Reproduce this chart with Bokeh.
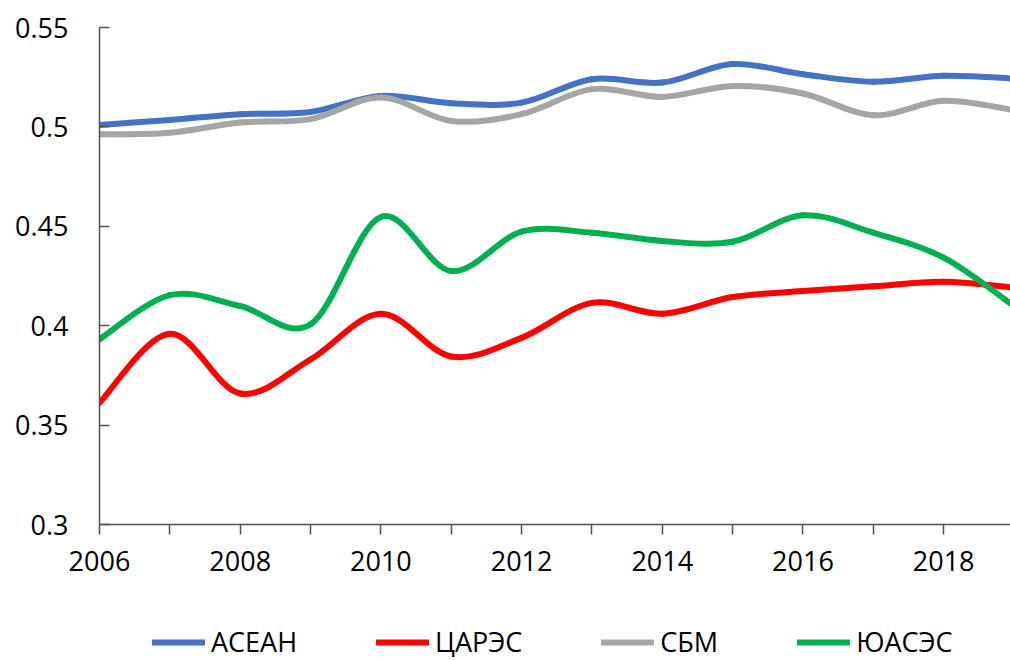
import numpy as np
from bokeh.plotting import figure
from bokeh.layouts import column
from bokeh.models import FixedTicker, Range1d, Legend, LegendItem, ColumnDataSource
from bokeh.embed import file_html
from bokeh.resources import INLINE

years = [2006, 2007, 2008, 2009, 2010, 2011, 2012, 2013, 2014, 2015, 2016, 2017, 2018, 2019]
asean = [0.501, 0.5035, 0.5064, 0.5075, 0.5156, 0.5119, 0.5122, 0.524, 0.5223, 0.5316, 0.5265, 0.5227, 0.5257, 0.5243]
carec = [0.3612, 0.3959, 0.3659, 0.383, 0.406, 0.3845, 0.3939, 0.4115, 0.406, 0.4144, 0.4174, 0.4198, 0.4221, 0.4191]
sbm = [0.4963, 0.4971, 0.5022, 0.5039, 0.5148, 0.503, 0.5064, 0.519, 0.5151, 0.5206, 0.5168, 0.5059, 0.5131, 0.5084]
sasec = [0.3931, 0.4154, 0.4099, 0.4007, 0.4547, 0.4275, 0.4473, 0.4468, 0.4426, 0.4422, 0.4555, 0.4468, 0.4342, 0.4099]

series_names = ["АСЕАН", "ЦАРЭС", "СБМ", "ЮАСЭС"]
series_values = [asean, carec, sbm, sasec]
series_colors = ["#4472C4", "#FF0000", "#A5A5A5", "#00B050"]

y_ticks = [0.3, 0.35, 0.4, 0.45, 0.5, 0.55]
y_labels = ["0.3", "0.35", "0.4", "0.45", "0.5", "0.55"]
x_label_years = [2006, 2008, 2010, 2012, 2014, 2016, 2018]

FONT = "Open Sans"
LW = 6

p = figure(width=1010, height=610, output_backend="svg", toolbar_location=None,
           x_range=Range1d(2006, 2018.95), y_range=Range1d(0.3, 0.55),
           min_border_left=99, min_border_right=0, min_border_top=27, min_border_bottom=86)
p.outline_line_color = None
p.xgrid.grid_line_color = None
p.ygrid.grid_line_color = None
p.background_fill_color = "white"
p.border_fill_color = "white"

# legend strip below the chart
p2 = figure(width=1010, height=50, output_backend="svg", toolbar_location=None,
            x_range=Range1d(2006, 2019), y_range=Range1d(10, 11),
            x_axis_location=None, y_axis_location=None,
            min_border_left=0, min_border_right=0, min_border_top=0, min_border_bottom=0)
p2.outline_line_color = None
p2.xgrid.grid_line_color = None
p2.ygrid.grid_line_color = None


def smooth_segments(xs, ys):
    xs = np.asarray(xs, dtype=float)
    ys = np.asarray(ys, dtype=float)
    xp = np.concatenate([[xs[0]], xs, [xs[-1]]])
    yp = np.concatenate([[ys[0]], ys, [ys[-1]]])
    n = len(xs)
    i = np.arange(n - 1)
    x0, y0 = xs[:-1], ys[:-1]
    x1, y1 = xs[1:], ys[1:]
    cx0 = x0 + (xp[i + 2] - xp[i]) / 6.0
    cy0 = y0 + (yp[i + 2] - yp[i]) / 6.0
    cx1 = x1 - (xp[i + 3] - xp[i + 1]) / 6.0
    cy1 = y1 - (yp[i + 3] - yp[i + 1]) / 6.0
    return dict(x0=x0, y0=y0, x1=x1, y1=y1, cx0=cx0, cy0=cy0, cx1=cx1, cy1=cy1)


items = []
for name, vals, col in zip(series_names, series_values, series_colors):
    src = ColumnDataSource(smooth_segments(years, vals))
    kw = dict(x0="x0", y0="y0", x1="x1", y1="y1", cx0="cx0", cy0="cy0", cx1="cx1", cy1="cy1",
              source=src, line_color=col, line_width=LW, line_cap="round")
    p.bezier(**kw)
    r2 = p2.bezier(**kw)  # out of view; only feeds the legend swatch
    items.append(LegendItem(label=name, renderers=[r2]))

# axes
xa = p.xaxis[0]
xa.ticker = FixedTicker(ticks=years)
xa.major_label_overrides = {y: (str(y) if y in x_label_years else "") for y in years}
xa.major_tick_out = 10
xa.major_tick_in = 0
xa.minor_tick_line_color = None
xa.axis_line_color = "#505050"
xa.major_tick_line_color = "#505050"
xa.axis_line_width = 1.5
xa.major_tick_line_width = 1.5
xa.major_label_text_font = FONT
xa.major_label_text_font_size = "27px"
xa.major_label_text_color = "black"
xa.major_label_standoff = 16

ya = p.yaxis[0]
ya.ticker = FixedTicker(ticks=y_ticks)
ya.major_label_overrides = {t: l for t, l in zip(y_ticks, y_labels)}
ya.major_tick_out = 0
ya.major_tick_in = 10
ya.minor_tick_line_color = None
ya.axis_line_color = "#505050"
ya.major_tick_line_color = "#505050"
ya.axis_line_width = 1.5
ya.major_tick_line_width = 1.5
ya.major_label_text_font = FONT
ya.major_label_text_font_size = "27px"
ya.major_label_text_color = "black"
ya.major_label_standoff = 31

legend = Legend(items=items, orientation="horizontal", location=(53, 0),
                glyph_width=53, glyph_height=30, label_height=30, label_standoff=6,
                spacing=79, padding=0, margin=0,
                label_text_font=FONT, label_text_font_size="27px", label_text_color="black",
                border_line_alpha=0, background_fill_alpha=0)
p2.add_layout(legend, "center")

open("out.html", "w").write(file_html(column(p, p2, spacing=0), INLINE))
